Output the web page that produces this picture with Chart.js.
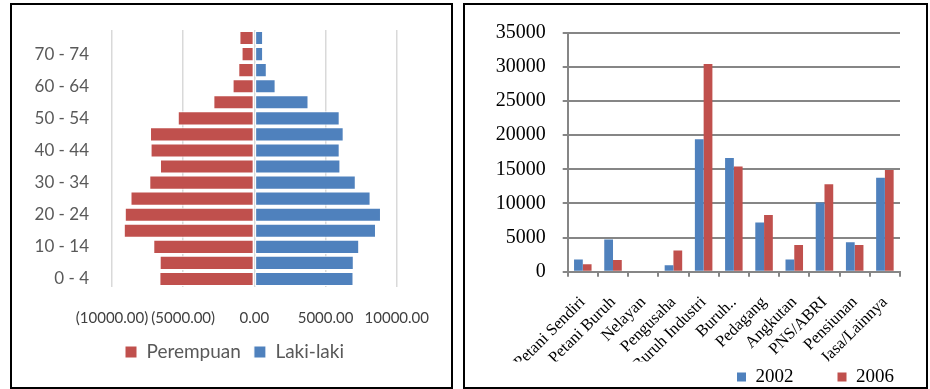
<!DOCTYPE html>
<html>
<head>
<meta charset="utf-8">
<script src="https://cdn.jsdelivr.net/npm/chart.js@4.4.1/dist/chart.umd.min.js"></script>
<style>
    html, body { margin: 0; padding: 0; background: #fff; overflow: hidden; }
    body { width: 930px; height: 389px; position: relative; }
    .frame { position: absolute; border: 2px solid #000; box-sizing: border-box; pointer-events: none; z-index: 2; }
    canvas { position: absolute; }
</style>
</head>
<body>
<div class="frame" style="left:10px; top:3px; width:443px; height:386px;"></div>
<div class="frame" style="left:463px; top:3px; width:465px; height:386px;"></div>
<canvas id="pyramid" width="439" height="380" style="left:12px; top:6px;"></canvas>
<canvas id="jobs" width="461" height="397" style="left:465px; top:6px;"></canvas>
<script>
// Population pyramid (left)
var ageGroups = ['0 - 4', '5 - 9', '10 - 14', '15 - 19', '20 - 24', '25 - 29', '30 - 34', '35 - 39',
    '40 - 44', '45 - 49', '50 - 54', '55 - 59', '60 - 64', '65 - 69', '70 - 74', '75+'];
var perempuan = [6670, 6650, 7100, 9170, 9100, 8700, 7380, 6630, 7290, 7330, 5380, 2880, 1530, 1130, 900, 1050];
var lakiLaki = [6960, 6980, 7360, 8540, 8890, 8160, 7120, 6040, 5990, 6270, 5990, 3800, 1490, 870, 610, 610];
var pyramidTicks = [-10000, -5000, 0, 5000, 10000];

// Jobs by year (right)
var pekerjaan = ['Petani Sendiri', 'Petani Buruh', 'Nelayan', 'Pengusaha', 'Buruh Industri', 'Buruh..',
    'Pedagang', 'Angkutan', 'PNS/ABRI', 'Pensiunan', 'Jasa/Lainnya'];
var tahun2002 = [1800, 4700, 0, 950, 19400, 16650, 7200, 1800, 10150, 4300, 13750];
var tahun2006 = [1100, 1700, 0, 3100, 30400, 15400, 8300, 3900, 12800, 3900, 14900];
var jobTicks = [0, 5000, 10000, 15000, 20000, 25000, 30000, 35000];

var red = '#C0504D';
var blue = '#4F81BD';
var sans = 'Lato, "Open Sans", sans-serif';
var serif = '"Liberation Serif", "Times New Roman", serif';

function formatMoney(v) {
    if (v < 0) return '(' + Math.abs(v).toFixed(2) + ')';
    return v.toFixed(2);
}

new Chart(document.getElementById('pyramid').getContext('2d'), {
    type: 'bar',
    data: {
        labels: ageGroups,
        datasets: [{
            label: 'Perempuan',
            data: perempuan.map(function (v) { return -v; }),
            backgroundColor: red,
            borderColor: '#ffffff',
            borderWidth: 1,
            borderSkipped: false
        }, {
            label: 'Laki-laki',
            data: lakiLaki,
            backgroundColor: blue,
            borderColor: '#ffffff',
            borderWidth: 1,
            borderSkipped: false
        }]
    },
    options: {
        indexAxis: 'y',
        responsive: false,
        animation: false,
        barPercentage: 0.88,
        categoryPercentage: 1.0,
        layout: { padding: { top: 24, right: 54, bottom: 14.5, left: 0 } },
        plugins: {
            tooltip: { enabled: false },
            legend: {
                position: 'bottom',
                align: 'start',
                fullSize: false,
                labels: {
                    boxWidth: 12,
                    boxHeight: 12,
                    padding: 13,
                    color: '#595959',
                    font: { family: sans, size: 19 }
                }
            }
        },
        scales: {
            x: {
                stacked: true,
                min: -10000,
                max: 10000,
                afterBuildTicks: function (scale) {
                    scale.ticks = pyramidTicks.map(function (v) { return { value: v }; });
                },
                afterFit: function (scale) { scale.height = 42.5; },
                grid: { color: '#d9d9d9', lineWidth: 1.5, drawTicks: false },
                border: { display: false },
                ticks: {
                    autoSkip: false,
                    minRotation: 0,
                    maxRotation: 0,
                    padding: 22,
                    color: '#404040',
                    font: { family: sans, size: 15 },
                    callback: function (value) { return formatMoney(value); }
                }
            },
            y: {
                stacked: true,
                reverse: true,
                afterFit: function (scale) { scale.width = 100; },
                // hidden tick marks give the gap between labels and plot
                grid: { display: false, drawTicks: true, tickLength: 20 },
                border: { display: false },
                ticks: {
                    autoSkip: false,
                    padding: 3,
                    color: '#595959',
                    font: { family: sans, size: 17 },
                    // only every second age group is labelled
                    callback: function (value, index) {
                        return index % 2 === 0 ? ageGroups[index] : null;
                    }
                }
            }
        }
    }
});

new Chart(document.getElementById('jobs').getContext('2d'), {
    type: 'bar',
    data: {
        labels: pekerjaan,
        datasets: [{
            label: '2002',
            data: tahun2002,
            backgroundColor: blue
        }, {
            label: '2006',
            data: tahun2006,
            backgroundColor: red
        }]
    },
    options: {
        responsive: false,
        animation: false,
        barPercentage: 1.0,
        categoryPercentage: 0.58,
        layout: { padding: { top: 26.7, right: 26, bottom: 6.5, left: 0 } },
        plugins: {
            tooltip: { enabled: false },
            legend: {
                position: 'bottom',
                align: 'end',
                fullSize: false,
                labels: {
                    boxWidth: 9,
                    boxHeight: 9,
                    padding: 6,
                    color: '#000000',
                    font: { family: serif, size: 19 },
                    generateLabels: function (chart) {
                        var items = Chart.defaults.plugins.legend.labels.generateLabels(chart);
                        // wide gap after the first entry, as in the original
                        items[0].text = items[0].text + '\u2003\u2003';
                        return items;
                    }
                }
            }
        },
        scales: {
            x: {
                afterFit: function (scale) { scale.height = 89.8; },
                grid: { drawOnChartArea: false, color: '#868686', lineWidth: 2, tickLength: 5 },
                border: { color: '#868686', width: 2 },
                ticks: {
                    autoSkip: false,
                    minRotation: 45,
                    maxRotation: 45,
                    padding: 16,
                    color: '#000000',
                    font: { family: serif, size: 16.5 }
                }
            },
            y: {
                min: 0,
                max: 35000,
                afterBuildTicks: function (scale) {
                    scale.ticks = jobTicks.map(function (v) { return { value: v }; });
                },
                afterFit: function (scale) { scale.width = 102.7; },
                grid: { color: '#868686', lineWidth: 2, tickLength: 5 },
                border: { color: '#868686', width: 2 },
                ticks: {
                    padding: 17,
                    color: '#000000',
                    font: { family: serif, size: 20, lineHeight: 0.9 },
                    callback: function (value) { return String(value); }
                }
            }
        }
    }
});
</script>
</body>
</html>
